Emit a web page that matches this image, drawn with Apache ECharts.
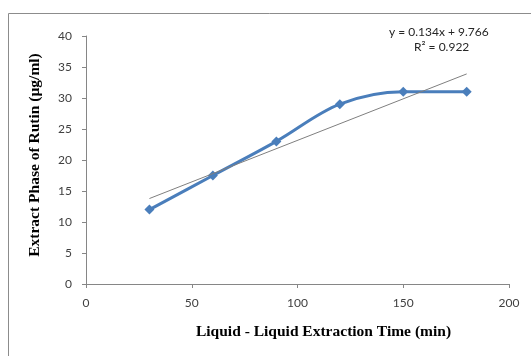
<!DOCTYPE html>
<html>
<head>
<meta charset="utf-8">
<script src="https://cdn.jsdelivr.net/npm/echarts@6/dist/echarts.min.js"></script>
<style>html,body{margin:0;padding:0;background:#fff}#c{width:531px;height:356px}</style>
</head>
<body>
<div id="c"></div>
<script>
var timeMin = [30, 60, 90, 120, 150, 180];
var rutin = [12, 17.5, 23, 29, 31, 31];
var trendSlope = 0.134;
var trendIntercept = 9.766;
var r2 = 0.922;
var xTicks = [0, 50, 100, 150, 200];
var yTicks = [0, 5, 10, 15, 20, 25, 30, 35, 40];

var trendX = [timeMin[0], timeMin[timeMin.length - 1]];
var trendData = trendX.map(function (x) { return [x, trendSlope * x + trendIntercept]; });
var seriesData = timeMin.map(function (x, i) { return [x, rutin[i]]; });

var chart = echarts.init(document.getElementById('c'));
var labelFont = 'Lato, "Open Sans", sans-serif';
chart.setOption({
  animation: false,
  grid: { left: 86, right: 22, top: 36, bottom: 72 },
  xAxis: {
    type: 'value', min: 0, max: 200, interval: 50,
    name: 'Liquid - Liquid Extraction Time (min)',
    nameLocation: 'middle', nameGap: 40,
    nameTextStyle: { fontFamily: 'Liberation Serif', fontWeight: 'bold', fontSize: 15.5, color: '#000', padding: [0, 0, 0, 52] },
    axisLine: { lineStyle: { color: '#868686', width: 1 } },
    axisTick: { show: true, inside: false, length: 4, lineStyle: { color: '#868686' } },
    axisLabel: { fontFamily: labelFont, fontSize: 12, color: '#404040', margin: 13 },
    splitLine: { show: false }
  },
  yAxis: {
    type: 'value', min: 0, max: 40, interval: 5,
    name: 'Extract Phase of Rutin (µg/ml)',
    nameLocation: 'middle', nameGap: 43, nameRotate: 90,
    nameTextStyle: { fontFamily: 'Liberation Serif', fontWeight: 'bold', fontSize: 15.5, color: '#000', padding: [0, 0, 0, 10] },
    axisLine: { show: true, lineStyle: { color: '#868686', width: 1 } },
    axisTick: { show: true, inside: false, length: 4, lineStyle: { color: '#868686' } },
    axisLabel: { fontFamily: labelFont, fontSize: 12, color: '#404040', margin: 14 },
    splitLine: { show: false }
  },
  graphic: [
    { type: 'line', shape: { x1: 8.5, y1: 13.5, x2: 531, y2: 13.5 }, style: { stroke: '#8c8c8c', lineWidth: 1 } },
    { type: 'line', shape: { x1: 8.5, y1: 13.5, x2: 8.5, y2: 356 }, style: { stroke: '#8c8c8c', lineWidth: 1 } },
    { type: 'text', left: 389, top: 26, style: { text: 'y = 0.134x + 9.766', font: '12px Lato, "Open Sans", sans-serif', fill: '#262626' } },
    { type: 'text', left: 414, top: 41, style: { text: 'R² = ' + r2, font: '12px Lato, "Open Sans", sans-serif', fill: '#262626' } }
  ],
  series: [
    {
      type: 'line', data: trendData, symbol: 'none', silent: true,
      lineStyle: { color: '#7f7f7f', width: 1 }, z: 3
    },
    {
      type: 'line', data: seriesData, smooth: 0.35,
      symbol: 'diamond', symbolSize: 10,
      itemStyle: { color: '#4a7ebb' },
      lineStyle: { color: '#4a7ebb', width: 3 }, z: 2
    }
  ]
});
</script>
</body>
</html>
